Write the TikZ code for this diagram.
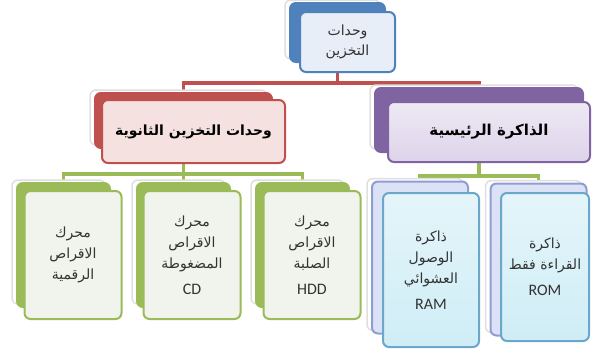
\documentclass[tikz,border=0pt]{standalone}
\usepackage{fontspec}
\setmainfont{DejaVu Sans}
\newfontfamily\arabicfont[Script=Arabic]{DejaVu Sans}
\newfontfamily\latfont{Carlito}
\TeXXeTstate=1
\usetikzlibrary{backgrounds,shadows}

\definecolor{topblue}{HTML}{4F81BD}
\definecolor{toplight}{HTML}{E8EEF7}
\definecolor{secred}{HTML}{C0504D}
\definecolor{seclight}{HTML}{F4E1E0}
\definecolor{mainpurple}{HTML}{8064A2}
\definecolor{mainlight}{HTML}{DDD3EA}
\definecolor{drvgreen}{HTML}{9BBB59}
\definecolor{drvlight}{HTML}{F1F4EC}
\definecolor{memback}{HTML}{DCE2F5}
\definecolor{memedge}{HTML}{8E9ED2}
\definecolor{memlight}{HTML}{CFEDF6}
\definecolor{memblue}{HTML}{6BA7CB}
\definecolor{txt}{HTML}{333333}

\newcommand\artxt[1]{\beginR#1\endR}

\begin{document}
\begin{tikzpicture}[x=1pt,y=-1pt,
  card/.style={rounded corners=6pt, line width=2pt, inner sep=2pt, align=center, text=txt},
  halo/.style={drop shadow={shadow xshift=-5pt, shadow yshift=3pt, fill=white, draw=gray!25, line width=1.5pt, opacity=1}},
  redlink/.style={draw=secred, line width=3.6pt},
  greenlink/.style={draw=drvgreen, line width=3.6pt},
  drvback/.style={card, halo, draw=drvgreen, fill=drvgreen, minimum width=93pt, minimum height=124pt},
  drvfront/.style={card, draw=drvgreen, fill=drvlight, minimum width=97pt, minimum height=128pt, font=\arabicfont\fontsize{14}{21}\selectfont},
  memback/.style={card, halo, draw=memedge, fill=memback, minimum width=96pt, minimum height=152pt},
  memfront/.style={card, draw=memblue, top color=memlight!55, bottom color=memlight, minimum width=96pt, minimum height=154pt, font=\arabicfont\fontsize{14}{21}\selectfont}
]
\useasboundingbox (0,0) rectangle (592,354);

% top
\node[card, halo, draw=topblue, fill=topblue, minimum width=95pt, minimum height=59pt] (topb) at (337.5,32.5) {};
\node[card, draw=topblue, fill=toplight, minimum width=95pt, minimum height=60pt, font=\arabicfont\fontsize{14}{20}\selectfont] (topf) at (347.5,42) {\artxt{وحدات}\\ \artxt{التخزين}};

% second level
\node[card, halo, draw=secred, fill=secred, minimum width=177pt, minimum height=55pt] (secb) at (183.5,120.5) {};
\node[card, draw=secred, fill=seclight, minimum width=183pt, minimum height=63pt, font=\arabicfont\bfseries\fontsize{14}{16}\selectfont, text=black] (secf) at (193.5,131.5) {\artxt{وحدات التخزين الثانوية}};
\node[card, halo, draw=mainpurple, fill=mainpurple, minimum width=208pt, minimum height=64pt] (mainb) at (479,120) {};
\node[card, draw=mainpurple, top color=mainlight!50, bottom color=mainlight, minimum width=202pt, minimum height=60pt, font=\arabicfont\bfseries\fontsize{15}{17}\selectfont, text=black] (mainf) at (489,132) {\artxt{الذاكرة الرئيسية}};

% drives
\foreach \n/\x in {g1/63.5,g2/183.5,g3/302.5}
  \node[drvback] (\n b) at (\x,245) {};
\node[drvfront] (g1f) at (73,255) {\artxt{محرك}\\ \artxt{الاقراص}\\ \artxt{الرقمية}};
\node[drvfront] (g2f) at (192,255) {\artxt{محرك}\\ \artxt{الاقراص}\\ \artxt{المضغوطة}\\[5pt] {\latfont\fontsize{16}{18}\selectfont CD}};
\node[drvfront] (g3f) at (312,255) {\artxt{محرك}\\ \artxt{الاقراص}\\ \artxt{الصلبة}\\[5pt] {\latfont\fontsize{16}{18}\selectfont HDD}};

% memory
\node[memback] (ramb) at (420,257.5) {};
\node[memback] (romb) at (538.5,259.5) {};
\node[memfront] (ramf) at (431,270) {\artxt{ذاكرة}\\ \artxt{الوصول}\\ \artxt{العشوائي}\\[5pt] {\latfont\fontsize{16}{18}\selectfont RAM}};
\node[memfront, minimum width=88pt, minimum height=148pt] (romf) at (545,267) {\artxt{ذاكرة}\\ \artxt{القراءة فقط}\\[5pt] {\latfont\fontsize{16}{18}\selectfont ROM}};

\begin{pgfonlayer}{background}
\draw[redlink] (topb.south) -- ++(0,-20pt) -| (secb.north);
\draw[redlink] (topb.south) -- ++(0,-20pt) -| (mainb.north);
\foreach \g in {g1,g2,g3}
  \draw[greenlink] (secb.south) -- ++(0,-25pt) -| (\g b.north);
\foreach \r in {ram,rom}
  \draw[greenlink] (mainb.south) -- ++(0,-23pt) -| (\r b.north);
\end{pgfonlayer}
\end{tikzpicture}
\end{document}
